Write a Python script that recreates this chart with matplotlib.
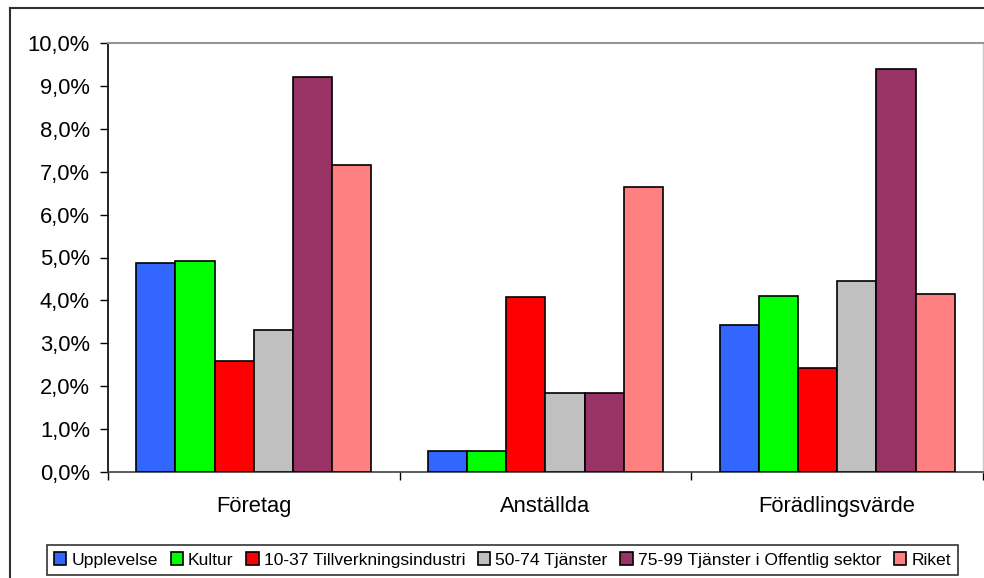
import matplotlib
matplotlib.use('Agg')
import matplotlib.pyplot as plt
from matplotlib.ticker import FuncFormatter, FixedLocator
from matplotlib.lines import Line2D
import numpy as np

plt.rcParams['font.family'] = ['Liberation Sans', 'DejaVu Sans']

# data
categories = ['Företag', 'Anställda', 'Förädlingsvärde']
series = ['Upplevelse', 'Kultur', '10-37 Tillverkningsindustri', '50-74 Tjänster',
          '75-99 Tjänster i Offentlig sektor', 'Riket']
upplevelse = [4.88, 0.50, 3.42]
kultur = [4.93, 0.50, 4.10]
tillverkning = [2.58, 4.07, 2.42]
tjanster = [3.30, 1.85, 4.45]
offentlig = [9.20, 1.85, 9.40]
riket = [7.15, 6.65, 4.15]
values = [upplevelse, kultur, tillverkning, tjanster, offentlig, riket]
colors = ['#3366FF', '#00FF00', '#FF0000', '#C0C0C0', '#993366', '#FF8080']

fig = plt.figure(figsize=(9.84, 5.78), dpi=100)
ax = fig.add_axes([108/984, 1-472/578, (983-108)/984, (472-43)/578])

x = np.arange(len(categories))
group = 0.806
w = group/len(series)
for i in range(len(series)):
    ax.bar(x - group/2 + w*(i+0.5), values[i], w, color=colors[i],
           edgecolor='black', linewidth=1.2, label=series[i], zorder=3)

ax.set_xlim(-0.5, 2.5)
ax.set_ylim(0, 10)
ax.set_yticks(np.arange(0, 11, 1))
ax.yaxis.set_major_formatter(FuncFormatter(lambda v, p: ('%.1f%%' % v).replace('.', ',')))
ax.tick_params(axis='y', labelsize=15.8, length=6, width=1, pad=7, direction='out')

# ticks at group edges, labels at centers
ax.xaxis.set_major_locator(FixedLocator([-0.5, 0.5, 1.5, 2.5]))
ax.xaxis.set_major_formatter(FuncFormatter(lambda v, p: ''))
ax.xaxis.set_minor_locator(FixedLocator(x))
ax.set_xticklabels(categories, minor=True)
ax.tick_params(axis='x', which='major', length=6, width=1, direction='out')
ax.tick_params(axis='x', which='minor', length=0, labelsize=15.8, pad=17)

ax.spines['left'].set_color('black')
ax.spines['left'].set_linewidth(1.2)
ax.spines['bottom'].set_color('#404040')
ax.spines['bottom'].set_linewidth(1.2)
ax.spines['top'].set_color('#969696')
ax.spines['top'].set_linewidth(1.5)
ax.spines['right'].set_color('#c8c8c8')
ax.spines['right'].set_linewidth(1)

leg = ax.legend(loc='center', bbox_to_anchor=(502.5/984, 18/578), bbox_transform=fig.transFigure,
                ncol=6, fontsize=12.6, frameon=True, fancybox=False, edgecolor='black',
                handlelength=0.7, handleheight=0.7, handletextpad=0.3, columnspacing=0.72,
                borderpad=0.4, borderaxespad=0)
leg.get_frame().set_linewidth(1.2)

# outer chart border
fig.add_artist(Line2D([10/984, 10/984], [0, 1-8/578], color='#303030', lw=1.5, transform=fig.transFigure))
fig.add_artist(Line2D([10/984, 1], [1-8/578, 1-8/578], color='#303030', lw=1.5, transform=fig.transFigure))

plt.savefig('out.png', dpi=100)
plt.close()
